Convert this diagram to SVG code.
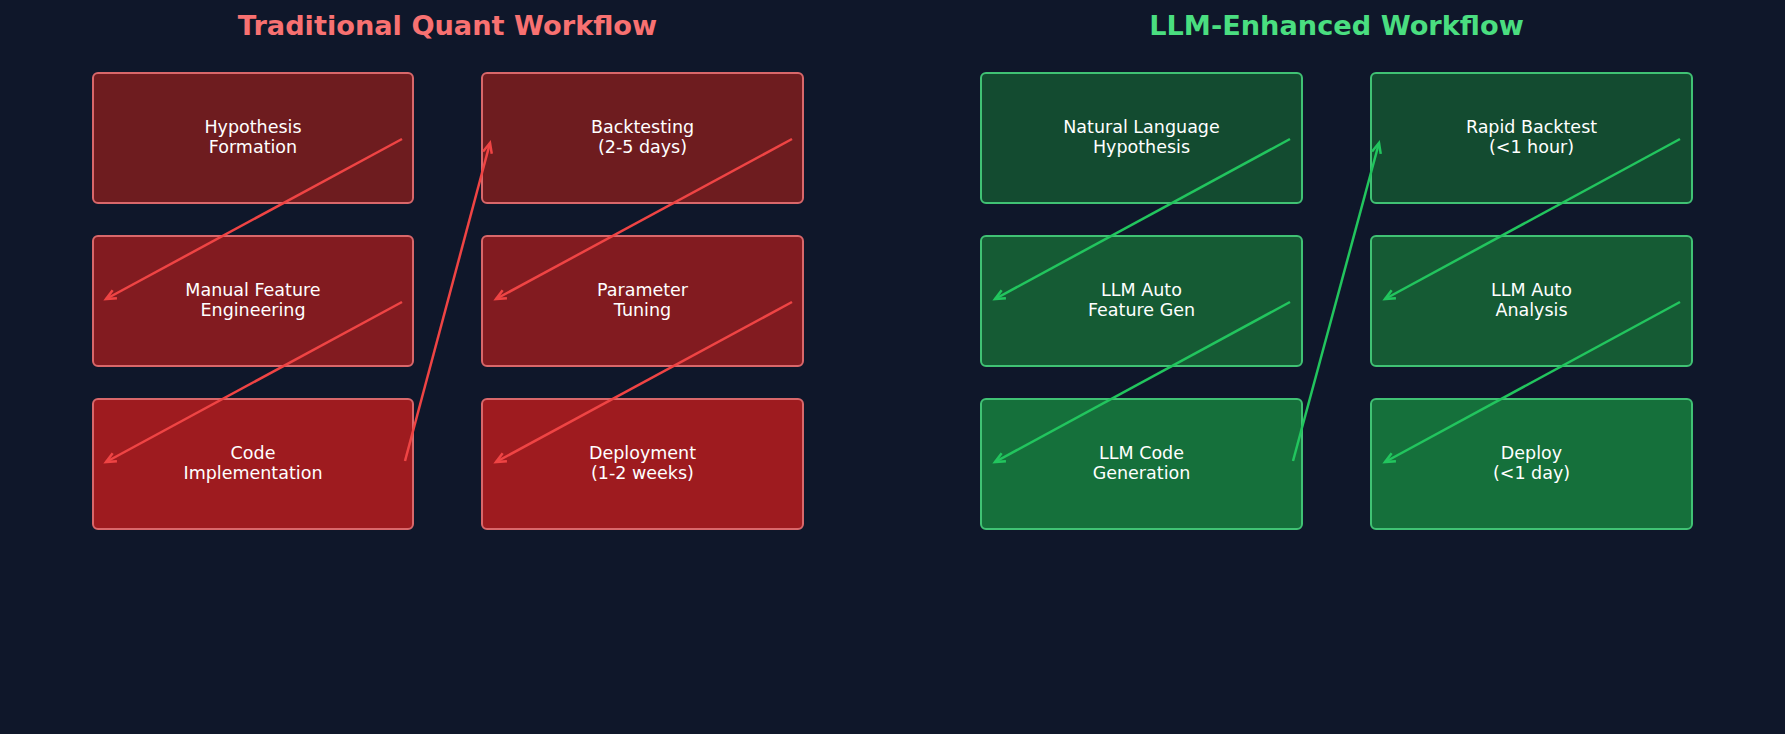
<svg xmlns="http://www.w3.org/2000/svg" width="1785" height="734" viewBox="0 0 1785 734">
<style>
.title{font-family:"DejaVu Sans","Liberation Sans",sans-serif;font-weight:bold;font-size:27.2px;text-anchor:middle}
.lbl{font-family:"DejaVu Sans","Liberation Sans",sans-serif;font-size:17.5px;fill:#ffffff;text-anchor:middle}
.rb{stroke:#d9676a;stroke-width:2}
.gb{stroke:#40c274;stroke-width:2}
.ra{stroke:#ef4444;stroke-width:2.5;fill:none;marker-end:url(#ah-r)}
.ga{stroke:#22c55e;stroke-width:2.5;fill:none;marker-end:url(#ah-g)}
</style>
<defs>
<marker id="ah-r" markerUnits="userSpaceOnUse" markerWidth="20" markerHeight="20" viewBox="-12 -10 20 20" refX="0" refY="0" orient="auto" overflow="visible">
<path d="M-10,-4.5 L0,0 L-10,4.5" fill="none" stroke="#ef4444" stroke-width="2.5"/>
</marker>
<marker id="ah-g" markerUnits="userSpaceOnUse" markerWidth="20" markerHeight="20" viewBox="-12 -10 20 20" refX="0" refY="0" orient="auto" overflow="visible">
<path d="M-10,-4.5 L0,0 L-10,4.5" fill="none" stroke="#22c55e" stroke-width="2.5"/>
</marker>
</defs>
<rect width="1785" height="734" fill="#0f172a"/>
<text class="title" x="447.5" y="35" fill="#f87171">Traditional Quant Workflow</text>
<text class="title" x="1336.5" y="35" fill="#4ade80">LLM-Enhanced Workflow</text>

<g id="t1"><rect class="rb" x="93" y="73" width="320" height="130" rx="5" fill="#6e1c1f"/><text class="lbl" x="253" y="133">Hypothesis</text><text class="lbl" x="253" y="153">Formation</text></g>
<g id="t2"><rect class="rb" x="93" y="236" width="320" height="130" rx="5" fill="#821b20"/><text class="lbl" x="253" y="296">Manual Feature</text><text class="lbl" x="253" y="316">Engineering</text></g>
<g id="t3"><rect class="rb" x="93" y="399" width="320" height="130" rx="5" fill="#9e1b1f"/><text class="lbl" x="253" y="459">Code</text><text class="lbl" x="253" y="479">Implementation</text></g>
<g id="t4"><rect class="rb" x="482" y="73" width="321" height="130" rx="5" fill="#6e1c1f"/><text class="lbl" x="642.5" y="133">Backtesting</text><text class="lbl" x="642.5" y="153">(2-5 days)</text></g>
<g id="t5"><rect class="rb" x="482" y="236" width="321" height="130" rx="5" fill="#821b20"/><text class="lbl" x="642.5" y="296">Parameter</text><text class="lbl" x="642.5" y="316">Tuning</text></g>
<g id="t6"><rect class="rb" x="482" y="399" width="321" height="130" rx="5" fill="#9e1b1f"/><text class="lbl" x="642.5" y="459">Deployment</text><text class="lbl" x="642.5" y="479">(1-2 weeks)</text></g>

<g id="l1"><rect class="gb" x="981" y="73" width="321" height="130" rx="5" fill="#134b30"/><text class="lbl" x="1141.5" y="133">Natural Language</text><text class="lbl" x="1141.5" y="153">Hypothesis</text></g>
<g id="l2"><rect class="gb" x="981" y="236" width="321" height="130" rx="5" fill="#155b34"/><text class="lbl" x="1141.5" y="296">LLM Auto</text><text class="lbl" x="1141.5" y="316">Feature Gen</text></g>
<g id="l3"><rect class="gb" x="981" y="399" width="321" height="130" rx="5" fill="#15703b"/><text class="lbl" x="1141.5" y="459">LLM Code</text><text class="lbl" x="1141.5" y="479">Generation</text></g>
<g id="l4"><rect class="gb" x="1371" y="73" width="321" height="130" rx="5" fill="#134b30"/><text class="lbl" x="1531.5" y="133">Rapid Backtest</text><text class="lbl" x="1531.5" y="153">(&lt;1 hour)</text></g>
<g id="l5"><rect class="gb" x="1371" y="236" width="321" height="130" rx="5" fill="#155b34"/><text class="lbl" x="1531.5" y="296">LLM Auto</text><text class="lbl" x="1531.5" y="316">Analysis</text></g>
<g id="l6"><rect class="gb" x="1371" y="399" width="321" height="130" rx="5" fill="#15703b"/><text class="lbl" x="1531.5" y="459">Deploy</text><text class="lbl" x="1531.5" y="479">(&lt;1 day)</text></g>

<g id="connectors">
<line class="ra" x1="402" y1="139" x2="106" y2="299"/>
<line class="ra" x1="402" y1="302" x2="106" y2="462"/>
<line class="ra" x1="405" y1="461" x2="490" y2="143"/>
<line class="ra" x1="792" y1="139" x2="496" y2="299"/>
<line class="ra" x1="792" y1="302" x2="496" y2="462"/>
<line class="ga" x1="1290" y1="139" x2="995" y2="299"/>
<line class="ga" x1="1290" y1="302" x2="995" y2="462"/>
<line class="ga" x1="1293" y1="461" x2="1379" y2="143"/>
<line class="ga" x1="1680" y1="139" x2="1385" y2="299"/>
<line class="ga" x1="1680" y1="302" x2="1385" y2="462"/>
</g>
</svg>
